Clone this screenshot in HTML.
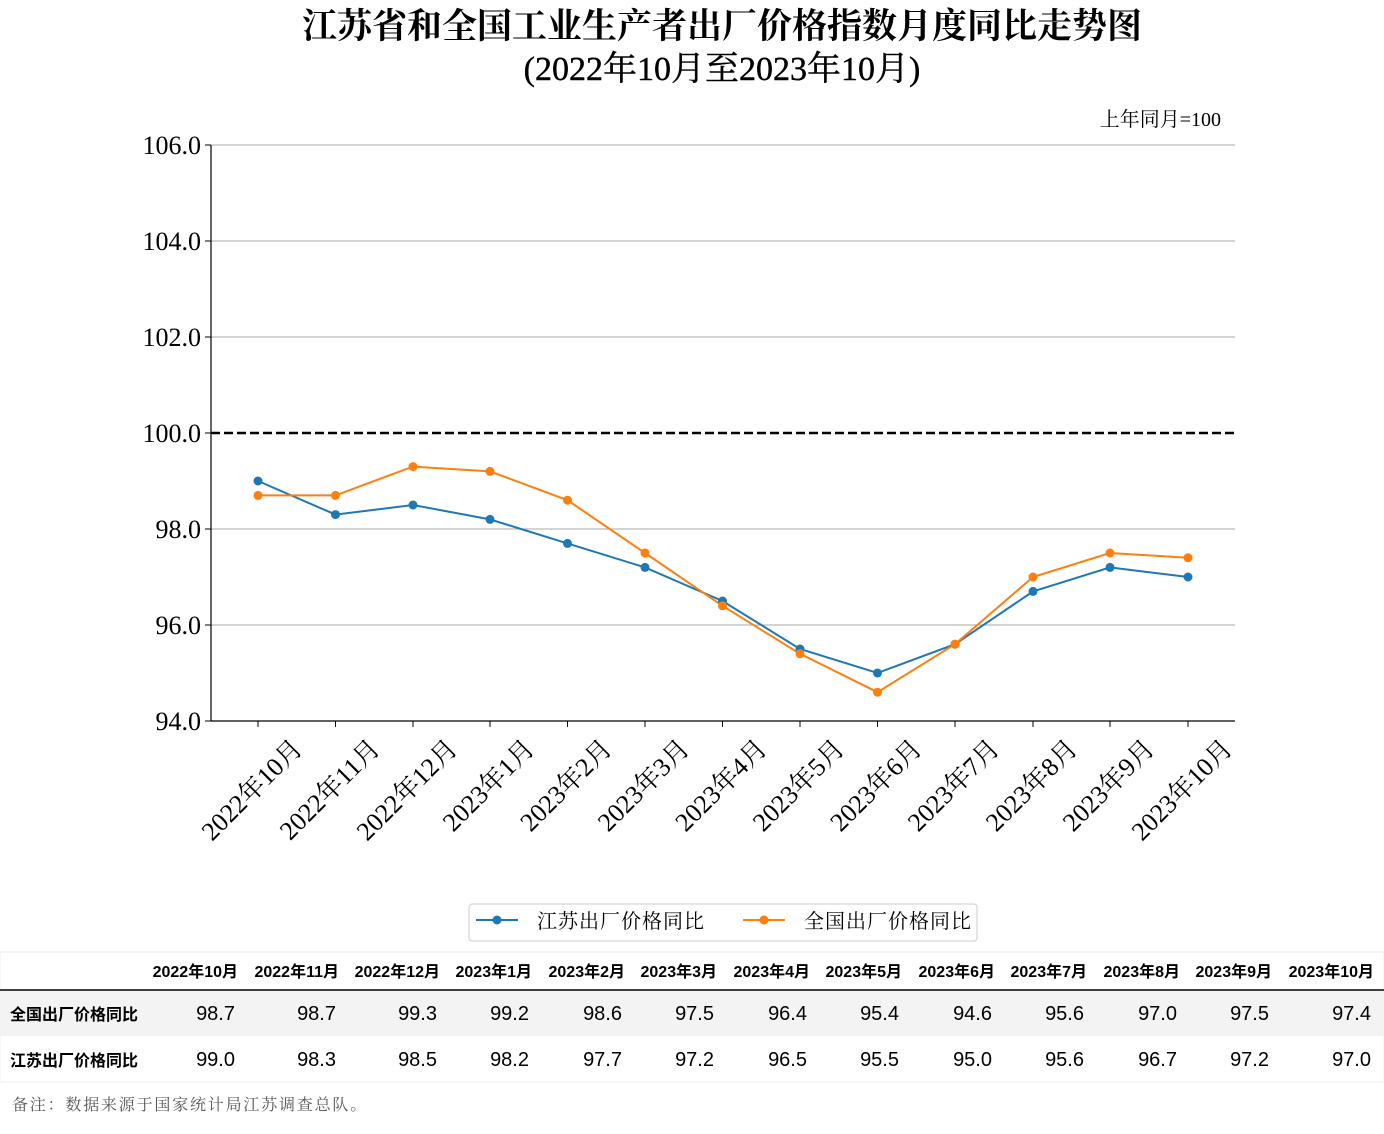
<!DOCTYPE html>
<html><head><meta charset="utf-8"><style>
body{margin:0;background:#fff;}
svg{display:block}
.s{font-family:"Liberation Serif","Noto Serif CJK SC",serif;}
.a{font-family:"Liberation Sans","Noto Sans CJK SC",sans-serif;}
</style></head><body>
<svg width="1384" height="1134" xmlns="http://www.w3.org/2000/svg">
<text class="s" x="722" y="38" font-size="35" font-weight="bold" text-anchor="middle">江苏省和全国工业生产者出厂价格指数月度同比走势图</text>
<text class="s" x="722" y="80" font-size="34" text-anchor="middle" stroke="#000" stroke-width="0.4">(2022年10月至2023年10月)</text>
<text class="s" x="1221" y="126" font-size="20" text-anchor="end">上年同月=100</text>
<g stroke="#aaa" stroke-width="1">
<line x1="211" y1="145" x2="1235" y2="145"/><line x1="211" y1="241" x2="1235" y2="241"/>
<line x1="211" y1="337" x2="1235" y2="337"/><line x1="211" y1="529" x2="1235" y2="529"/>
<line x1="211" y1="625" x2="1235" y2="625"/>
</g>
<line x1="211" y1="433" x2="1235" y2="433" stroke="#000" stroke-width="2.5" stroke-dasharray="9,4"/>
<line x1="211" y1="145" x2="211" y2="721" stroke="#000" stroke-width="1.2"/>
<line x1="211" y1="721" x2="1235" y2="721" stroke="#000" stroke-width="1.2"/>
<g class="s" font-size="26" text-anchor="end">
<text x="201" y="154">106.0</text><text x="201" y="250">104.0</text><text x="201" y="346">102.0</text>
<text x="201" y="442">100.0</text><text x="201" y="538">98.0</text><text x="201" y="634">96.0</text><text x="201" y="730">94.0</text>
</g>
<g stroke="#000" stroke-width="1">
<line x1="205" y1="145" x2="211" y2="145"/><line x1="205" y1="241" x2="211" y2="241"/><line x1="205" y1="337" x2="211" y2="337"/><line x1="205" y1="433" x2="211" y2="433"/><line x1="205" y1="529" x2="211" y2="529"/><line x1="205" y1="625" x2="211" y2="625"/><line x1="205" y1="721" x2="211" y2="721"/>
</g>
<g id="ticks" stroke="#000" stroke-width="1"></g>
<g id="xl" class="s" font-size="26" text-anchor="end"></g>
<polyline id="pb" fill="none" stroke="#1f77b4" stroke-width="2"/>
<polyline id="po" fill="none" stroke="#ff7f0e" stroke-width="2"/>
<g id="mk"></g>
<rect x="469" y="904" width="508" height="37" rx="3" fill="#fff" stroke="#ccc"/>
<line x1="476" y1="920" x2="518" y2="920" stroke="#1f77b4" stroke-width="2"/><circle cx="497" cy="920" r="4.5" fill="#1f77b4"/>
<text class="s" x="537" y="928" font-size="20" letter-spacing="1">江苏出厂价格同比</text>
<line x1="743" y1="920" x2="785" y2="920" stroke="#ff7f0e" stroke-width="2"/><circle cx="764" cy="920" r="4.5" fill="#ff7f0e"/>
<text class="s" x="804" y="928" font-size="20" letter-spacing="1">全国出厂价格同比</text>
<rect x="0" y="952" width="1384" height="130" fill="#fff" stroke="#eee"/>
<rect x="0" y="990" width="1384" height="46" fill="#f3f3f3"/>
<line x1="0" y1="990" x2="1384" y2="990" stroke="#000" stroke-width="1.5"/>
<g class="a" font-size="16" font-weight="bold">
<text x="10" y="1020">全国出厂价格同比</text><text x="10" y="1066">江苏出厂价格同比</text>
</g>
<g id="tb" class="a" text-anchor="end"></g>
<text class="s" x="12" y="1110" font-size="16" fill="#555" letter-spacing="1.8">备注：数据来源于国家统计局江苏调查总队。</text>
</svg>
<script>
var xs=[258,335.5,413,490,567.5,645,722.5,800,877.5,955,1033,1110,1188];
var js=[99.0,98.3,98.5,98.2,97.7,97.2,96.5,95.5,95.0,95.6,96.7,97.2,97.0];
var nt=[98.7,98.7,99.3,99.2,98.6,97.5,96.4,95.4,94.6,95.6,97.0,97.5,97.4];
var lb=["2022年10月","2022年11月","2022年12月","2023年1月","2023年2月","2023年3月","2023年4月","2023年5月","2023年6月","2023年7月","2023年8月","2023年9月","2023年10月"];
var re=[238,339,440,532,625,717,810,902,995,1087,1180,1272,1374];
function y(v){return 433-(v-100)*48;}
var NS="http://www.w3.org/2000/svg";
function el(t,a,p,txt){var e=document.createElementNS(NS,t);for(var k in a)e.setAttribute(k,a[k]);if(txt)e.textContent=txt;document.getElementById(p).appendChild(e);}
var pb="",po="";
for(var i=0;i<13;i++){
pb+=xs[i]+","+y(js[i])+" ";po+=xs[i]+","+y(nt[i])+" ";
el("line",{x1:xs[i],y1:721,x2:xs[i],y2:727},"ticks");
el("text",{x:xs[i]+46,y:750,transform:"rotate(-45 "+(xs[i]+46)+" 750)"},"xl",lb[i]);
el("circle",{cx:xs[i],cy:y(js[i]),r:4.5,fill:"#1f77b4"},"mk");
el("circle",{cx:xs[i],cy:y(nt[i]),r:4.5,fill:"#ff7f0e"},"mk");
el("text",{x:re[i],y:977,"font-size":16,"font-weight":"bold"},"tb",lb[i]);
el("text",{x:re[i]-3,y:1020,"font-size":20},"tb",nt[i].toFixed(1));
el("text",{x:re[i]-3,y:1066,"font-size":20},"tb",js[i].toFixed(1));
}
document.getElementById("pb").setAttribute("points",pb);
document.getElementById("po").setAttribute("points",po);
</script>
</body></html>
